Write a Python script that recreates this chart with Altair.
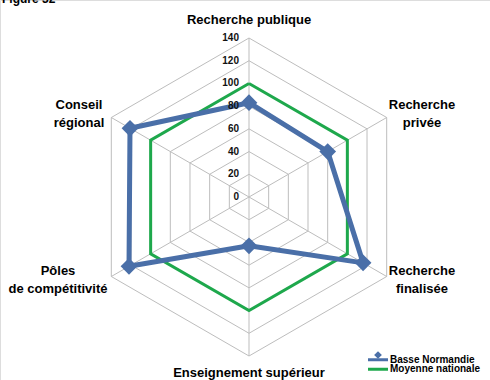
import math
import altair as alt
import pandas as pd

# Axes of the radar, clockwise from the top
axes = ["Recherche publique", "Recherche privée", "Recherche finalisée",
        "Enseignement supérieur", "Pôles de compétitivité", "Conseil régional"]
basse_normandie = [83, 80, 116, 43, 122, 121]
moyenne_nationale = [100, 100, 100, 100, 100, 100]
ticks = [0, 20, 40, 60, 80, 100, 120, 140]
series_names = ["Basse Normandie", "Moyenne nationale"]

FONT = "Liberation Sans"
BLUE = "#4a6fa8"
GREEN = "#1ea84c"

R_MAX = 140
W, H = 490, 380
CX, CY = 249, 197          # centre of the radar in pixels
PX_PER_UNIT = 159 / R_MAX  # radius of the outer ring in pixels

x_scale = alt.Scale(domain=[-CX / PX_PER_UNIT, (W - CX) / PX_PER_UNIT], nice=False, zero=False)
y_scale = alt.Scale(domain=[-(H - CY) / PX_PER_UNIT, CY / PX_PER_UNIT], nice=False, zero=False)

n = len(axes)
angles = [2 * math.pi * i / n for i in range(n)]


def polar(r, a):
    return r * math.sin(a), r * math.cos(a)


# grid rings
ring_rows = []
for lvl in ticks[1:]:
    for k in range(n + 1):
        x, y = polar(lvl, angles[k % n])
        ring_rows.append({"lvl": lvl, "k": k, "x": x, "y": y})
rings = pd.DataFrame(ring_rows)

# spokes
spoke_rows = []
for a in angles:
    x, y = polar(R_MAX, a)
    spoke_rows.append({"x": 0.0, "y": 0.0, "x2": x, "y2": y})
spokes = pd.DataFrame(spoke_rows)

# series polygons
series_rows = []
for name, vals in zip(series_names, [basse_normandie, moyenne_nationale]):
    for k in range(n + 1):
        v = vals[k % n]
        x, y = polar(v, angles[k % n])
        series_rows.append({"serie": name, "k": k, "v": v, "x": x, "y": y})
series = pd.DataFrame(series_rows)

enc_x = alt.X("x:Q", scale=x_scale, axis=None)
enc_y = alt.Y("y:Q", scale=y_scale, axis=None)

grid = alt.Chart(rings).mark_line(color="#bdbdbd", strokeWidth=1).encode(
    x=enc_x, y=enc_y, detail="lvl:N", order="k:Q")

spoke_layer = alt.Chart(spokes).mark_rule(color="#bdbdbd", strokeWidth=1).encode(
    x=enc_x, y=enc_y, x2="x2:Q", y2="y2:Q")

green = alt.Chart(series[series.serie == "Moyenne nationale"]).mark_line(
    color=GREEN, strokeWidth=3).encode(x=enc_x, y=enc_y, order="k:Q")

blue_line = alt.Chart(series[series.serie == "Basse Normandie"]).mark_line(
    color=BLUE, strokeWidth=5, strokeJoin="round").encode(x=enc_x, y=enc_y, order="k:Q")

blue_pts = alt.Chart(series[(series.serie == "Basse Normandie") & (series.k < n)]).mark_point(
    shape="diamond", filled=True, color=BLUE, size=280, opacity=1).encode(x=enc_x, y=enc_y)

# tick labels along the vertical axis
tick_df = pd.DataFrame({"v": ticks, "x": [-10 / PX_PER_UNIT] * len(ticks), "y": ticks})
tick_text = alt.Chart(tick_df).mark_text(
    align="right", baseline="middle", fontSize=10, fontWeight="bold",
    font=FONT, color="#111111").encode(
    x=enc_x, y=enc_y, text="v:Q")

# category labels
label_pos = {
    "Recherche publique": (249, 20, ["Recherche publique"]),
    "Recherche privée": (422, 105, ["Recherche", "privée"]),
    "Recherche finalisée": (422, 271, ["Recherche", "finalisée"]),
    "Enseignement supérieur": (249, 373, ["Enseignement supérieur"]),
    "Pôles de compétitivité": (58, 271, ["Pôles", "de compétitivité"]),
    "Conseil régional": (79, 105, ["Conseil", "régional"]),
}
lab_rows = []
for name in axes:
    px, py, lines = label_pos[name]
    lab_rows.append({"x": (px - CX) / PX_PER_UNIT, "y": (CY - py) / PX_PER_UNIT, "t": lines})
labels = pd.DataFrame(lab_rows)
label_text = alt.Chart(labels).mark_text(
    align="center", baseline="middle", fontSize=13, fontWeight="bold",
    font=FONT, color="#000000", lineHeight=18).encode(
    x=enc_x, y=enc_y, text="t")

# figure caption, clipped at the top edge
cap = alt.Chart(pd.DataFrame({"t": ["Figure 32"]})).mark_text(
    align="left", baseline="alphabetic", fontSize=12, fontWeight="bold",
    font=FONT, color="#000000").encode(
    x=alt.value(2), y=alt.value(3), text="t:N")

# legend
leg = pd.DataFrame({"serie": series_names, "row": [0, 1]})
leg_y = alt.Y("row:O", scale=alt.Scale(domain=[0, 1], range=[355, 374]), axis=None)
leg_line = alt.Chart(leg).mark_rule(strokeWidth=3).encode(
    x=alt.value(368), x2=alt.value(388), y=leg_y,
    color=alt.Color("serie:N", scale=alt.Scale(domain=series_names, range=[BLUE, GREEN]), legend=None))
leg_pt = alt.Chart(leg[leg.row == 0]).mark_point(
    shape="diamond", filled=True, color=BLUE, size=60, opacity=1).encode(
    x=alt.value(378), y=alt.value(355))
leg_text = alt.Chart(leg).mark_text(
    align="left", baseline="middle", fontSize=10, fontWeight="bold",
    font=FONT, color="#000000").encode(
    x=alt.value(390), y=leg_y, text="serie:N")

chart = alt.layer(
    grid, spoke_layer, green, blue_line, blue_pts, tick_text, label_text, cap,
    leg_line, leg_pt, leg_text
).resolve_scale(y="independent").properties(
    width=W, height=H, padding=0, autosize=alt.AutoSizeParams(type="none")
).configure_view(strokeWidth=0).configure(background="white")

chart.save("out.html", embed_options={"renderer": "svg", "actions": False})
